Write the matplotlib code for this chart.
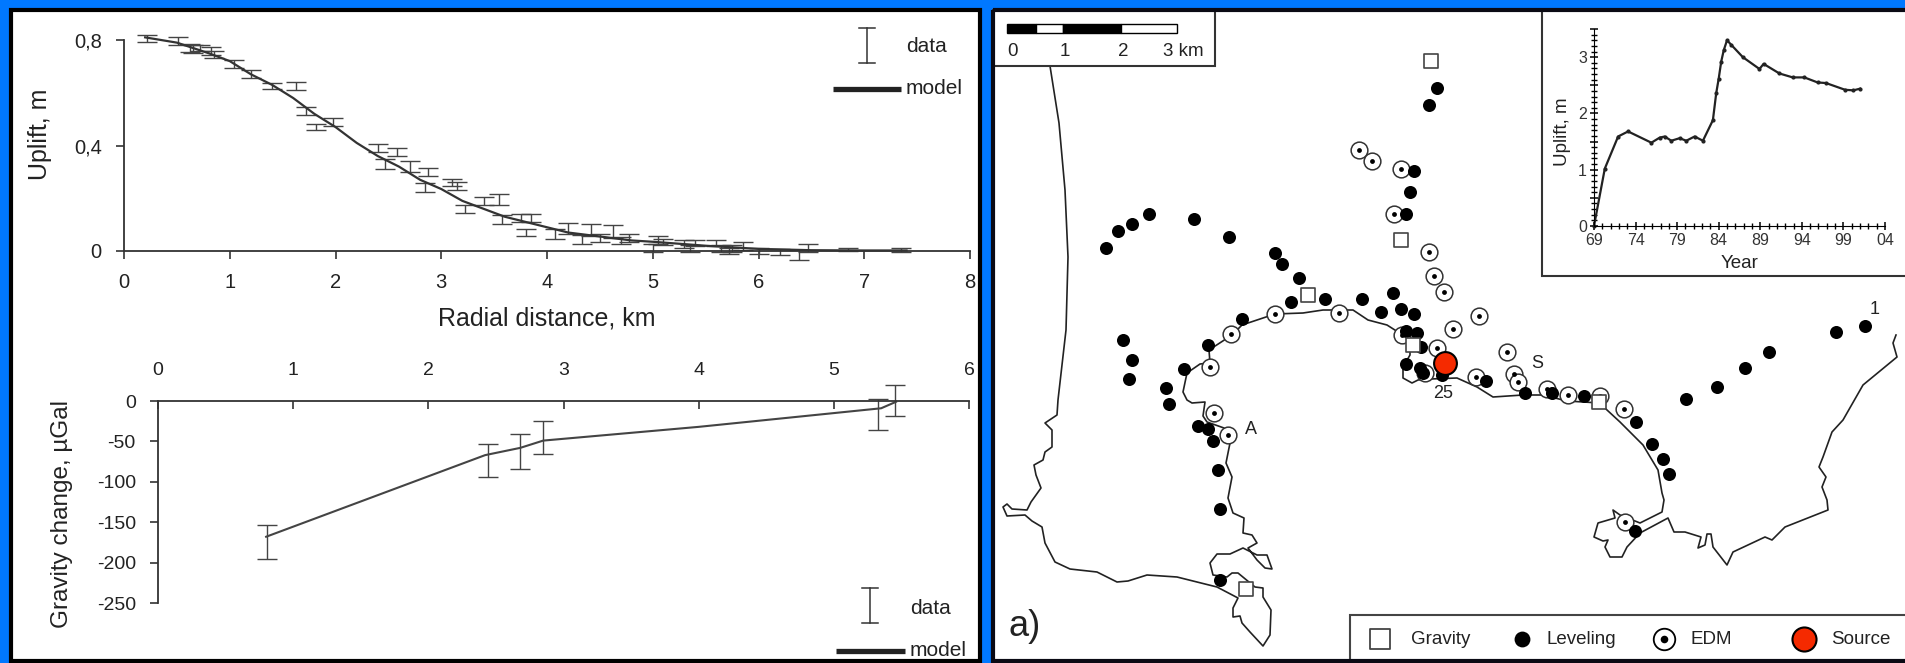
import matplotlib
matplotlib.use("Agg")
import numpy as np
from matplotlib import pyplot as plt
from matplotlib.patches import Rectangle

plt.rcParams["font.family"] = ["Liberation Sans", "DejaVu Sans"]
plt.rcParams["axes.unicode_minus"] = False

W, H = 1905, 663
TEXT = "#222222"
LINE = "#333333"

# uplift profile, km / m
uplift_x = [0.22, 0.51, 0.62, 0.65, 0.72, 0.82, 0.85, 1.04, 1.2, 1.4, 1.63, 1.72, 1.82, 1.98, 2.4, 2.47,
            2.58, 2.7, 2.87, 2.85, 3.1, 3.15, 3.22, 3.4, 3.55, 3.57, 3.75, 3.85, 3.8, 4.08, 4.2, 4.33,
            4.42, 4.5, 4.62, 4.7, 4.78, 5.0, 5.05, 5.1, 5.3, 5.35, 5.4, 5.6, 5.65, 5.72, 5.75, 5.85,
            6.0, 6.2, 6.38, 6.47, 6.85, 7.35]
uplift_y = [0.807, 0.797, 0.77, 0.765, 0.77, 0.76, 0.745, 0.71, 0.67, 0.625, 0.625, 0.53, 0.47, 0.49, 0.39, 0.33,
            0.375, 0.32, 0.30, 0.24, 0.26, 0.245, 0.16, 0.19, 0.195, 0.12, 0.125, 0.125, 0.07, 0.065, 0.085, 0.045,
            0.08, 0.05, 0.075, 0.04, 0.05, 0.01, 0.04, 0.035, 0.025, 0.01, 0.03, 0.03, 0.01, 0.0, 0.01, 0.02,
            0.0, -0.005, -0.015, 0.01, 0.005, 0.003]
uplift_err = [0.013, 0.016, 0.015, 0.015, 0.012, 0.015, 0.015, 0.015, 0.015, 0.012, 0.015, 0.015, 0.012, 0.015, 0.015, 0.02,
              0.015, 0.02, 0.014, 0.017, 0.013, 0.015, 0.015, 0.015, 0.02, 0.017, 0.015, 0.015, 0.012, 0.018, 0.02, 0.017,
              0.023, 0.015, 0.025, 0.012, 0.015, 0.015, 0.015, 0.012, 0.015, 0.012, 0.012, 0.01, 0.012, 0.012, 0.012, 0.015,
              0.012, 0.012, 0.018, 0.015, 0.005, 0.008]
model_x = [0.2, 0.5, 0.8, 1.0, 1.2, 1.4, 1.6, 1.8, 2.0, 2.2, 2.4, 2.6, 2.8, 3.0, 3.2, 3.4, 3.6, 3.8, 4.0, 4.2,
           4.5, 4.8, 5.0, 5.5, 6.0, 6.5, 7.0, 7.4]
model_y = [0.81, 0.79, 0.75, 0.72, 0.67, 0.63, 0.58, 0.52, 0.47, 0.41, 0.36, 0.32, 0.27, 0.235, 0.19, 0.16, 0.13, 0.11,
           0.09, 0.07, 0.055, 0.04, 0.035, 0.02, 0.008, 0.003, 0.002, 0.002]

# gravity profile
grav_x = [0.81, 2.44, 2.68, 2.85, 5.33, 5.45]
grav_hi = [-153, -53, -41, -25, 2.5, 20]
grav_lo = [-196, -94, -84, -65, -36, -19]
grav_model_x = [0.8, 2.42, 2.68, 2.85, 4.0, 5.35, 5.46]
grav_model_y = [-168, -67, -58, -49, -32, -9, -1]

# inset time series
year = [69, 70.3, 71.9, 73.1, 75.9, 76.9, 77.5, 78.3, 79.3, 80.1, 81.1, 82.1, 83.3, 83.7, 84.0, 84.3, 84.6, 85, 85.5, 86.9,
        88.9, 89.4, 91.3, 92.9, 94.3, 95.9, 96.9, 99.2, 100.2, 101]
year_uplift = [0, 1.02, 1.59, 1.68, 1.48, 1.57, 1.59, 1.515, 1.56, 1.515, 1.59, 1.515, 1.88, 2.36, 2.62, 2.92, 3.12, 3.3, 3.22, 3.0,
               2.79, 2.88, 2.71, 2.64, 2.64, 2.55, 2.54, 2.42, 2.41, 2.44]
year_labels = ["69", "74", "79", "84", "89", "94", "99", "04"]

# map stations, in map units
leveling_x = [1437, 1429, 1414, 1410, 1406, 1149, 1132, 1118, 1106, 1194, 1229, 1275, 1282, 1299, 1291, 1325, 1362,
              1393, 1401, 1381, 1414, 1406, 1417, 1242, 1123, 1132, 1129, 1208, 1184, 1166, 1169, 1198, 1208, 1213,
              1218, 1220, 1220, 1406, 1420, 1423, 1442, 1486, 1525, 1552, 1584, 1636, 1652, 1663, 1669, 1635, 1686,
              1717, 1745, 1769, 1836, 1865, 1421]
leveling_y = [88, 105, 171, 192, 214, 214, 224, 231, 248, 219, 237, 253, 264, 278, 302, 299, 299,
              293, 309, 312, 314, 331, 333, 319, 340, 360, 379, 345, 369, 388, 404, 426, 429, 441,
              470, 509, 580, 364, 368, 373, 375, 381, 393, 393, 396, 422, 444, 459, 474, 531, 399,
              387, 368, 352, 332, 326, 347]
edm_x = [1359, 1372, 1401, 1394, 1429, 1434, 1444, 1479, 1453, 1339, 1275, 1231, 1210, 1214, 1228, 1437, 1425, 1476,
         1402, 1507, 1514, 1518, 1547, 1568, 1600, 1624, 1625]
edm_y = [150, 161, 169, 214, 252, 276, 292, 316, 329, 313, 314, 334, 367, 413, 435, 348, 373, 377,
         335, 352, 374, 382, 389, 395, 396, 409, 522]
gravity_x = [1431, 1401, 1308, 1413, 1246, 1599]
gravity_y = [61, 240, 295, 345, 589, 402]
source_x = [1445]
source_y = [363]

coast_x = [1050, 1059, 1065, 1068, 1066, 1058, 1057, 1045, 1052, 1052, 1045, 1043, 1034, 1036, 1041, 1031, 1027, 1012,
           1007, 1003, 1007, 1025, 1032, 1042, 1045, 1055, 1070, 1097, 1117, 1128, 1147, 1177, 1217, 1238, 1233, 1233,
           1240, 1242, 1250, 1263, 1270, 1271, 1263, 1263, 1255, 1238, 1232, 1227, 1213, 1210, 1217, 1230, 1243, 1257,
           1267, 1272, 1265, 1257, 1248, 1257, 1252, 1243, 1244, 1233, 1228, 1232, 1226, 1230, 1224, 1207, 1203, 1205,
           1192, 1187, 1183, 1187, 1200, 1210, 1209, 1232, 1242, 1275, 1303, 1323, 1353, 1368, 1387, 1398, 1410, 1410,
           1403, 1403, 1412, 1418, 1430, 1457, 1477, 1493, 1523, 1543, 1567, 1600, 1607, 1620, 1643, 1658, 1662, 1664,
           1662, 1640, 1620, 1613, 1615, 1598, 1594, 1603, 1608, 1605, 1610, 1622, 1627, 1640, 1668, 1674, 1685, 1701,
           1698, 1705, 1707, 1711, 1713, 1727, 1733, 1765, 1772, 1785, 1828, 1827, 1822, 1826, 1819, 1823, 1832, 1843,
           1863, 1897, 1893, 1896]
coast_y = [66, 123, 190, 257, 330, 400, 415, 423, 430, 447, 452, 460, 465, 475, 488, 502, 510, 509,
           504, 507, 516, 515, 521, 527, 543, 562, 569, 572, 582, 581, 575, 577, 587, 598, 608, 617,
           616, 623, 632, 646, 635, 610, 597, 588, 587, 573, 573, 577, 575, 563, 554, 554, 548, 555,
           555, 569, 568, 560, 548, 543, 535, 533, 518, 513, 498, 477, 463, 443, 428, 422, 416, 402,
           403, 400, 392, 373, 364, 363, 350, 335, 325, 314, 313, 310, 310, 320, 325, 332, 345, 355,
           367, 378, 383, 380, 379, 378, 387, 397, 395, 395, 401, 403, 410, 422, 445, 470, 493, 500,
           512, 523, 515, 510, 518, 523, 537, 541, 540, 547, 557, 557, 547, 533, 518, 532, 532, 537,
           548, 545, 534, 534, 547, 565, 552, 537, 540, 527, 510, 500, 487, 477, 467, 457, 432, 420,
           385, 357, 343, 335]


def px_axes(fig, left, top, right, bottom):
    return fig.add_axes([left / W, 1 - bottom / H, (right - left) / W, (bottom - top) / H])


fig = plt.figure(figsize=(W / 100, H / 100), dpi=100, facecolor="#0078FF")

# base layer: panels, map and all the loose text
ax = fig.add_axes([0, 0, 1, 1])
ax.set_xlim(0, W)
ax.set_ylim(H, 0)
ax.axis("off")
ax.add_patch(Rectangle((11, 11), 969, 650, fc="white", ec="none"))
ax.add_patch(Rectangle((993, 10), 930, 660, fc="white", ec="none"))

ax.plot(coast_x, coast_y, color="#222222", lw=1.2, zorder=2)
ax.scatter(edm_x, edm_y, s=145, fc="white", ec="#333333", lw=1.1, zorder=3)
ax.scatter(edm_x, edm_y, s=12, c="black", lw=0, zorder=3)
ax.scatter(leveling_x, leveling_y, s=88, c="black", lw=0, zorder=4)
ax.scatter(gravity_x, gravity_y, s=108, marker="s", fc="white", ec="#444444", lw=1.2, zorder=5)
ax.scatter(source_x, source_y, s=270, fc="#F52A00", ec="black", lw=1.5, zorder=6)

map_style = dict(color=TEXT, fontsize=13, ha="center", va="center")
ax.text(1875, 309, "1", **map_style)
ax.text(1443, 393, "25", **map_style)
ax.text(1251, 429, "A", **map_style)
ax.text(1537, 364, "S", **map_style)
ax.text(1025, 627, "a)", color=TEXT, fontsize=26, ha="center", va="center")

# scale bar
ax.add_patch(Rectangle((993, 10), 222, 56, fc="white", ec="#333333", lw=1.5, zorder=7))
for x0, x1, c in [(1007, 1036, "black"), (1036, 1063, "white"), (1063, 1121, "black"), (1121, 1177, "white")]:
    ax.add_patch(Rectangle((x0, 24), x1 - x0, 9, fc=c, ec="black", lw=1, zorder=8))
for x0, s in [(1012, "0"), (1065, "1"), (1123, "2"), (1183, "3 km")]:
    ax.text(x0, 52, s, color=TEXT, fontsize=13.5, ha="center", va="center", zorder=8)

# map legend
ax.add_patch(Rectangle((1350, 615), 600, 60, fc="white", ec="#444444", lw=1.5, zorder=7))
ax.scatter([1380], [639], s=190, marker="s", fc="white", ec="#444444", lw=1.3, zorder=8)
ax.scatter([1522], [639], s=130, c="black", lw=0, zorder=8)
ax.scatter([1664], [639], s=240, fc="white", ec="black", lw=1.3, zorder=8)
ax.scatter([1664], [639], s=30, c="black", lw=0, zorder=9)
ax.scatter([1804], [639], s=300, fc="#F52A00", ec="black", lw=1.5, zorder=8)
for x0, s in [(1411, "Gravity"), (1547, "Leveling"), (1691, "EDM"), (1831, "Source")]:
    ax.text(x0, 639, s, color=TEXT, fontsize=13.5, ha="left", va="center", zorder=8)

# legend keys and labels of the left charts
for cx, y0, y1, lx0, lx1, ly, ty in [(867, 28, 63, 833, 901, 89, 46), (870, 588, 623, 836, 905, 651, 608)]:
    ax.plot([cx, cx], [y0, y1], color=LINE, lw=1.1, zorder=3)
    ax.plot([cx - 8, cx + 8], [y0, y0], color=LINE, lw=1.1, zorder=3)
    ax.plot([cx - 8, cx + 8], [y1, y1], color=LINE, lw=1.1, zorder=3)
    ax.plot([lx0, lx1], [ly, ly], color="#222222", lw=3.8, solid_capstyle="butt", zorder=3)
    ax.text(lx1 + 5, ty, "data", color=TEXT, fontsize=15, ha="left", va="center")
    ax.text(lx1 + 5, ly, "model", color=TEXT, fontsize=15, ha="left", va="center")

# inset box
ax.add_patch(Rectangle((1542, 10), 400, 266, fc="white", ec="#333333", lw=1.5, zorder=7))

# panel frames go over the boxes
ax.add_patch(Rectangle((11, 10), 969, 651, fc="none", ec="black", lw=3, zorder=20))
ax.add_patch(Rectangle((993, 10), 930, 651, fc="none", ec="#0a0a14", lw=3, zorder=20))

# uplift profile
a1 = px_axes(fig, 124, 40, 970, 251)
a1.patch.set_alpha(0)
a1.errorbar(uplift_x, uplift_y, yerr=uplift_err, fmt="none", ecolor="#444444", elinewidth=1, capsize=7, capthick=1,
            clip_on=False)
a1.plot(model_x, model_y, color="#333333", lw=1.6, clip_on=False)
a1.set_xlim(0, 8)
a1.set_ylim(0, 0.8)
a1.set_xticks(range(9))
a1.set_yticks([0, 0.4, 0.8], ["0", "0,4", "0,8"])
a1.set_xlabel("Radial distance, km", fontsize=18, color=TEXT, labelpad=10)
a1.set_ylabel("Uplift, m", fontsize=18, color=TEXT)
a1.yaxis.set_label_coords((52 - 124) / 846, (251 - 134) / 211)
a1.tick_params(labelsize=14.5, labelcolor=TEXT, length=6, width=1.2, color=LINE, pad=10)

# gravity profile
a2 = px_axes(fig, 158, 401, 969, 603)
a2.patch.set_alpha(0)
a2.errorbar(grav_x, (np.array(grav_hi) + np.array(grav_lo)) / 2, yerr=(np.array(grav_hi) - np.array(grav_lo)) / 2,
            fmt="none", ecolor="#444444", elinewidth=1, capsize=7, capthick=1, clip_on=False)
a2.plot(grav_model_x, grav_model_y, color="#444444", lw=1.5, clip_on=False)
a2.set_xlim(0, 6)
a2.set_ylim(-250, 0)
a2.set_xticks(range(7))
a2.set_yticks([0, -50, -100, -150, -200, -250])
a2.xaxis.tick_top()
a2.set_ylabel("Gravity change, µGal", fontsize=17.5, color=TEXT)
a2.yaxis.set_label_coords((73 - 158) / 811, (603 - 514) / 202)
a2.tick_params(axis="x", direction="in", labelsize=14, labelcolor=TEXT, length=6, width=1.2, color=LINE, pad=16)
a2.tick_params(axis="y", labelsize=14, labelcolor=TEXT, length=6, width=1.2, color=LINE, pad=10)

for a, hide in ((a1, ("top", "right")), (a2, ("bottom", "right"))):
    for s in hide:
        a.spines[s].set_visible(False)
    for s in a.spines.values():
        s.set_linewidth(1.3)
        s.set_color(LINE)

# inset
a3 = px_axes(fig, 1594, 29, 1885, 226)
a3.patch.set_alpha(0)
a3.plot(year, year_uplift, color="#222222", lw=1.6, marker="o", ms=2, clip_on=False)
a3.set_xlim(69, 104)
a3.set_ylim(0, 3.5)
a3.set_xticks(np.arange(69, 105, 5), year_labels)
a3.set_xticks(np.arange(69, 105, 1), minor=True)
a3.set_yticks(np.arange(0, 3.51, 0.5), ["0", "", "1", "", "2", "", "3", ""])
a3.set_yticks(np.arange(0, 3.51, 0.1), minor=True)
a3.set_xlabel("Year", fontsize=13.5, color=TEXT, labelpad=5)
a3.set_ylabel("Uplift, m", fontsize=13.5, color=TEXT, labelpad=4)
a3.yaxis.set_label_coords((1571 - 1594) / 291, (226 - 132) / 197)
a3.tick_params(which="major", labelsize=11.5, labelcolor="#333333", length=6, width=1.1, color="black", pad=2,
               direction="inout")
a3.tick_params(which="minor", length=4, width=1, color="black", direction="inout")
a3.spines["top"].set_visible(False)
a3.spines["right"].set_visible(False)

fig.savefig("out.png", dpi=100, facecolor=fig.get_facecolor())
